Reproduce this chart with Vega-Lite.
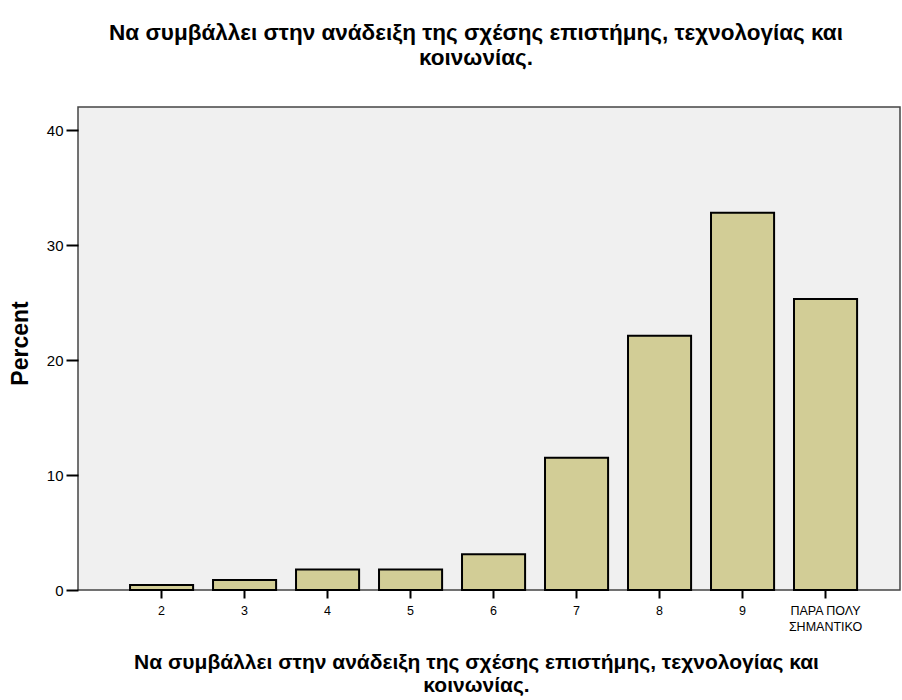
{
  "$schema": "https://vega.github.io/schema/vega-lite/v6.json",
  "width": 822,
  "height": 483,
  "autosize": {"type": "none"},
  "padding": {"left": 78, "top": 107, "right": 2, "bottom": 110},
  "background": "white",
  "config": {
    "font": "Liberation Sans",
    "view": {"fill": "#f0f0f0", "stroke": "#444444", "strokeWidth": 1.5}
  },
  "title": {
    "text": ["Να συμβάλλει στην ανάδειξη της σχέσης επιστήμης, τεχνολογίας και", "κοινωνίας."],
    "font": "Liberation Sans",
    "fontSize": 22.5,
    "fontWeight": "bold",
    "color": "#000000",
    "anchor": "middle",
    "dx": -13,
    "offset": 38,
    "lineHeight": 25
  },
  "data": {
    "values": [
      {"category": "2", "percent": 0.44},
      {"category": "3", "percent": 0.88},
      {"category": "4", "percent": 1.78},
      {"category": "5", "percent": 1.78},
      {"category": "6", "percent": 3.11},
      {"category": "7", "percent": 11.5},
      {"category": "8", "percent": 22.1},
      {"category": "9", "percent": 32.8},
      {"category": "ΠΑΡΑ ΠΟΛΥ ΣΗΜΑΝΤΙΚΟ", "percent": 25.3}
    ]
  },
  "mark": {"type": "bar", "fill": "#d2cd96", "stroke": "#000000", "strokeWidth": 2},
  "encoding": {
    "x": {
      "field": "category",
      "type": "ordinal",
      "sort": null,
      "scale": {"paddingInner": 0.24, "paddingOuter": 0.572, "align": 0.548},
      "axis": {
        "title": ["Να συμβάλλει στην ανάδειξη της σχέσης επιστήμης, τεχνολογίας και", "κοινωνίας."],
        "titleFont": "Liberation Sans",
        "titleFontSize": 21,
        "titleFontWeight": "bold",
        "titleColor": "#000000",
        "titleX": 398,
        "titleY": 61,
        "titleAlign": "center",
        "titleBaseline": "top",
        "titleLineHeight": 23,
        "labelAngle": 0,
        "labelFontSize": 12.5,
        "labelColor": "#000000",
        "labelLineHeight": 16,
        "labelPadding": 6,
        "labelExpr": "datum.label == 'ΠΑΡΑ ΠΟΛΥ ΣΗΜΑΝΤΙΚΟ' ? ['ΠΑΡΑ ΠΟΛΥ', 'ΣΗΜΑΝΤΙΚΟ'] : datum.label",
        "tickColor": "#000000",
        "tickWidth": 2,
        "tickSize": 8,
        "domain": false,
        "grid": false
      }
    },
    "y": {
      "field": "percent",
      "type": "quantitative",
      "scale": {"domain": [0, 42], "nice": false},
      "axis": {
        "title": "Percent",
        "titleFont": "Liberation Sans",
        "titleFontSize": 23,
        "titleFontWeight": "bold",
        "titleColor": "#000000",
        "titleX": -58,
        "titleY": 236,
        "titleAngle": 270,
        "titleAlign": "center",
        "titleBaseline": "middle",
        "values": [0, 10, 20, 30, 40],
        "labelFontSize": 15,
        "labelColor": "#000000",
        "labelPadding": 3,
        "tickColor": "#000000",
        "tickWidth": 2,
        "tickSize": 12,
        "domain": false,
        "grid": false
      }
    }
  }
}
